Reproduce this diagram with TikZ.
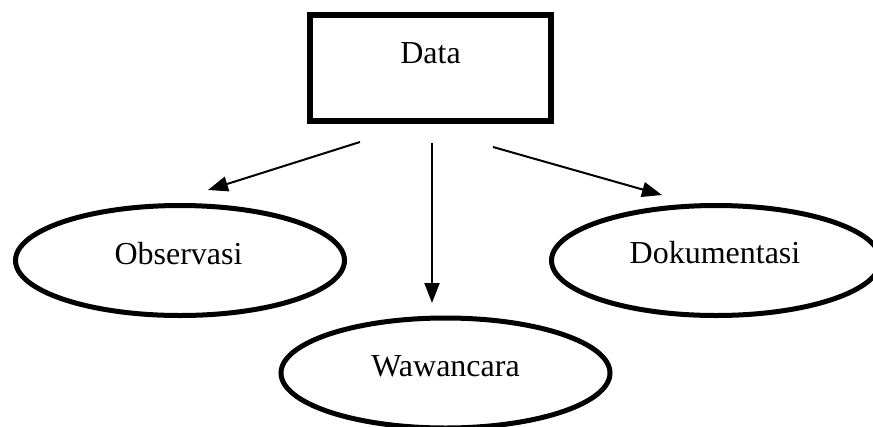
\documentclass[tikz,border=0pt]{standalone}
\usepackage{fontspec}
\setmainfont{Liberation Serif}
\usetikzlibrary{arrows.meta,shapes.geometric}
\begin{document}
\begin{tikzpicture}[x=1pt,y=-1pt,
  databox/.style={draw,line width=6pt,rectangle,minimum width=241pt,minimum height=106pt,inner sep=0pt},
  oval/.style={draw,line width=5pt,ellipse,minimum width=329pt,minimum height=110pt,inner sep=0pt},
  lbl/.style={inner sep=0pt,font=\fontsize{32}{38}\selectfont},
  arr/.style={line width=2pt,-{Triangle[length=20pt,width=15pt]}}]
\useasboundingbox (0,0) rectangle (873,426);
\begin{scope}
\clip (0,0) rectangle (873,426);
\node[databox] (data) at (430.5,68) {};
\node[lbl] (datat) at (430.5,53) {Data};
\node[oval] (obs) at (180,260.5) {};
\node[lbl] (obst) at (178.5,254) {Observasi};
\node[oval] (dok) at (716,260.5) {};
\node[lbl] (dokt) at (715,253) {Dokumentasi};
\node[oval] (waw) at (445.5,373) {};
\node[lbl] (wawt) at (445.5,366) {Wawancara};
\coordinate (a1s) at (360,142);
\coordinate (a1e) at (208,190);
\coordinate (a2s) at (432,143);
\coordinate (a2e) at (432,303);
\coordinate (a3s) at (493,147);
\coordinate (a3e) at (662,195);
\draw[arr] (a1s) -- (a1e);
\draw[arr] (a2s) -- (a2e);
\draw[arr] (a3s) -- (a3e);
\end{scope}
\end{tikzpicture}
\end{document}
